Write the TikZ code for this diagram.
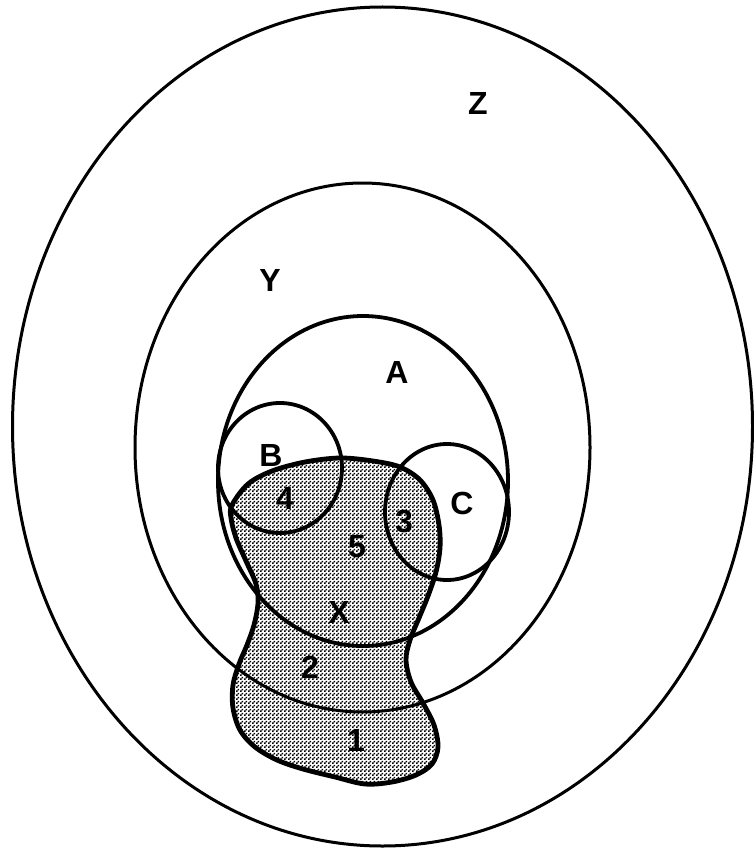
\documentclass[tikz,border=0pt]{standalone}
\usepackage{fontspec}
\setmainfont{Liberation Sans}
\usetikzlibrary{patterns}
\pgfdeclarepatternformonly{stipple}{\pgfpointorigin}{\pgfqpoint{4pt}{4pt}}{\pgfqpoint{4pt}{4pt}}{%
  \pgfpathrectangle{\pgfpointorigin}{\pgfqpoint{1.9pt}{1.9pt}}%
  \pgfpathrectangle{\pgfqpoint{2pt}{2pt}}{\pgfqpoint{1.9pt}{1.9pt}}%
  \pgfusepath{fill}%
}
\tikzset{
  setline/.style={draw=black, line width=3pt},
  subline/.style={draw=black, line width=3.8pt},
  blobline/.style={draw=black, line width=4.8pt, line join=round},
  lbl/.style={font=\fontsize{32}{32}\selectfont\bfseries, inner sep=0pt, anchor=center},
}
\begin{document}
\begin{tikzpicture}[x=1pt, y=-1pt]
\useasboundingbox (0,0) rectangle (753,848);
% shaded region X
\path[pattern=stipple, pattern color=black]
  plot[smooth cycle, tension=0.55] coordinates {
  (232,505) (248,484) (272,471) (305,462) (340,458) (373,461) (400,467) (420,480)
  (433,500) (439,525) (440,548) (436,572) (428,596) (419,618) (410,640) (406,660)
  (411,682) (423,703) (434,725) (438,747) (432,764) (416,775) (392,782) (365,784)
  (335,777) (303,769) (277,760) (255,747) (240,730) (233,708) (233,685) (239,664)
  (247,645) (254,625) (258,603) (256,584) (246,561) (236,538) (231,518)};
% sets
\draw[setline] (382.5,426.5) ellipse [x radius=370pt, y radius=419.5pt];
\draw[setline] (362.5,447.5) ellipse [x radius=227.5pt, y radius=264.5pt];
\draw[subline] (363,481) ellipse [x radius=145pt, y radius=165pt];
\draw[subline] (280,468) ellipse [x radius=62pt, y radius=65pt];
\draw[subline] (447,512) ellipse [x radius=62pt, y radius=68pt];
% outline of X
\draw[blobline]
  plot[smooth cycle, tension=0.55] coordinates {
  (232,505) (248,484) (272,471) (305,462) (340,458) (373,461) (400,467) (420,480)
  (433,500) (439,525) (440,548) (436,572) (428,596) (419,618) (410,640) (406,660)
  (411,682) (423,703) (434,725) (438,747) (432,764) (416,775) (392,782) (365,784)
  (335,777) (303,769) (277,760) (255,747) (240,730) (233,708) (233,685) (239,664)
  (247,645) (254,625) (258,603) (256,584) (246,561) (236,538) (231,518)};
% labels
\node[lbl] (lz) at (478,103) {Z};
\node[lbl] (ly) at (270,280) {Y};
\node[lbl] (la) at (397,372) {A};
\node[lbl] (lb) at (271,455) {B};
\node[lbl] (lc) at (462,503) {C};
\node[lbl] (l4) at (285,498) {4};
\node[lbl] (l3) at (404,522) {3};
\node[lbl] (l5) at (357,547) {5};
\node[lbl] (lx) at (339,612) {X};
\node[lbl] (l2) at (310,667) {2};
\node[lbl] (l1) at (356,740) {1};
\end{tikzpicture}
\end{document}
